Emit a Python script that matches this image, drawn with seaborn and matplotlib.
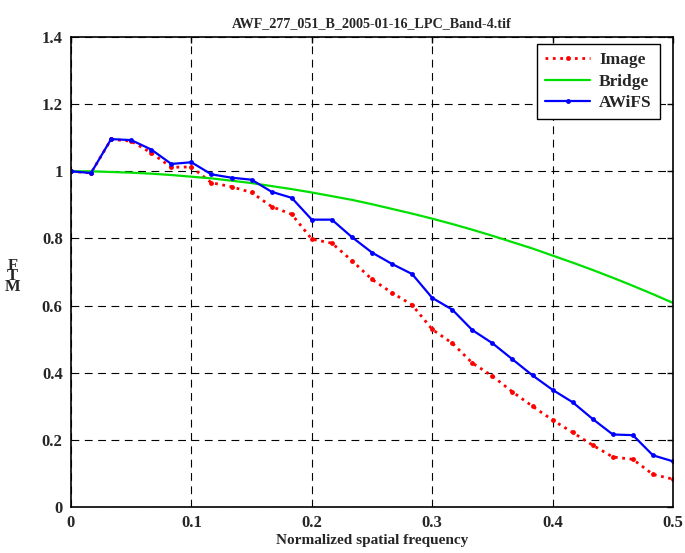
import matplotlib
matplotlib.use("Agg")
import matplotlib.pyplot as plt
import seaborn as sns
import pandas as pd

# sample frequencies (step 1/60)
freq = [i / 60 for i in range(31)]

image_mtf = [1.000, 0.995, 1.095, 1.090, 1.055, 1.012, 1.013, 0.966, 0.954, 0.937,
             0.895, 0.872, 0.798, 0.786, 0.734, 0.678, 0.638, 0.602, 0.529, 0.488,
             0.429, 0.390, 0.343, 0.300, 0.259, 0.222, 0.184, 0.149, 0.142, 0.097,
             0.083]

bridge_mtf = [1.000, 1.000, 0.998, 0.996, 0.993, 0.989, 0.984, 0.979, 0.972, 0.965,
              0.956, 0.947, 0.937, 0.926, 0.915, 0.902, 0.888, 0.874, 0.859, 0.843,
              0.826, 0.808, 0.789, 0.770, 0.749, 0.728, 0.706, 0.683, 0.659, 0.634,
              0.608]

awifs_mtf = [1.000, 0.995, 1.096, 1.093, 1.065, 1.022, 1.027, 0.991, 0.981, 0.975,
             0.939, 0.921, 0.856, 0.856, 0.804, 0.758, 0.724, 0.694, 0.623, 0.588,
             0.527, 0.488, 0.440, 0.392, 0.349, 0.312, 0.262, 0.216, 0.214, 0.154,
             0.136]

xticks = [0, 0.1, 0.2, 0.3, 0.4, 0.5]
xtick_labels = ["0", "0.1", "0.2", "0.3", "0.4", "0.5"]
yticks = [0, 0.2, 0.4, 0.6, 0.8, 1.0, 1.2, 1.4]
ytick_labels = ["0", "0.2", "0.4", "0.6", "0.8", "1", "1.2", "1.4"]

sns.set_style("white")
plt.rcParams['font.family'] = ['Liberation Serif', 'DejaVu Serif']
plt.rcParams['font.weight'] = 'bold'

df = pd.DataFrame({"freq": freq, "Image": image_mtf, "Bridge": bridge_mtf, "AWiFS": awifs_mtf})

fig = plt.figure(figsize=(6.85, 5.53), dpi=100)
ax = fig.add_axes([0.1036, 0.0832, 0.8789, 0.8498])

sns.lineplot(data=df, x="freq", y="Image", ax=ax, color="#ff0000", linestyle=":",
             linewidth=2, marker="o", markersize=3.5, markeredgewidth=0, label="Image")
sns.lineplot(data=df, x="freq", y="Bridge", ax=ax, color="#00e000", linestyle="-",
             linewidth=1.6, label="Bridge")
sns.lineplot(data=df, x="freq", y="AWiFS", ax=ax, color="#0000ff", linestyle="-",
             linewidth=1.6, marker="o", markersize=3.5, markeredgewidth=0, label="AWiFS")

ax.set_xlim(0, 0.5)
ax.set_ylim(0, 1.4)
ax.set_xticks(xticks)
ax.set_xticklabels(xtick_labels, fontsize=12, fontweight="bold")
ax.set_yticks(yticks)
ax.set_yticklabels(ytick_labels, fontsize=12, fontweight="bold")
ax.tick_params(direction="in", length=4, color="black", width=1, top=True, right=True, pad=6)
ax.grid(True, color="black", linestyle=(0, (7, 5)), linewidth=0.8)
for s in ax.spines.values():
    s.set_color("black")
    s.set_linewidth(1.2)

ax.set_title("AWF_277_051_B_2005-01-16_LPC_Band-4.tif", fontsize=10.2, fontweight="bold", pad=7)
ax.set_xlabel("Normalized spatial frequency", fontsize=11, fontweight="bold", labelpad=2)
ax.set_ylabel("")
fig.text(0.018, 0.5, "F\nT\nM", fontsize=12, fontweight="bold", ha="center", va="center",
         linespacing=0.55)

leg = ax.legend(loc="upper right", fontsize=12.5, frameon=True, fancybox=False,
                edgecolor="black", framealpha=1, handlelength=2.6, handletextpad=0.5,
                borderpad=0.45, labelspacing=0.3, bbox_to_anchor=(0.992, 1.003))
leg.get_frame().set_linewidth(1)
for t in leg.get_texts():
    t.set_fontweight("bold")

fig.savefig("out.png", dpi=100)
